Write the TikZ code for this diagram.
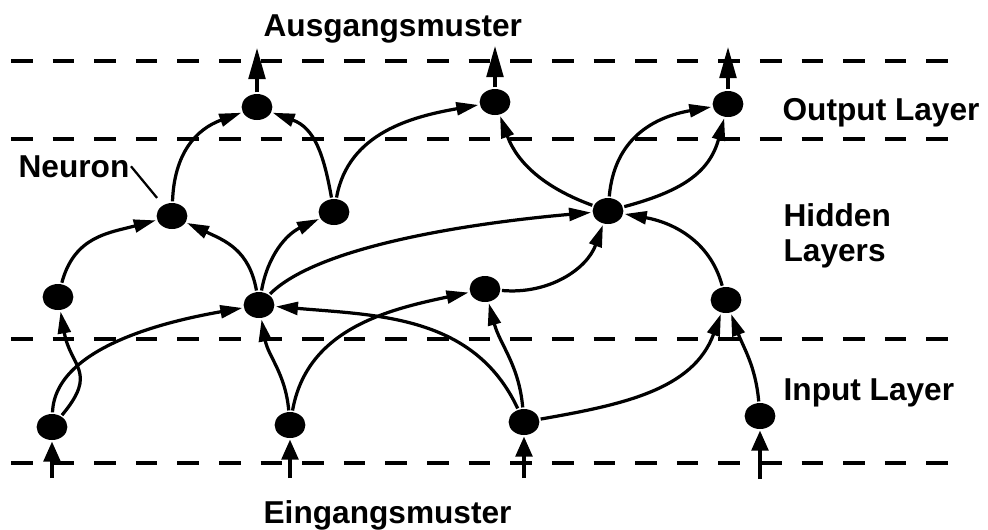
\documentclass[tikz,border=0pt]{standalone}
\usepackage{fontspec}
\setmainfont{Liberation Sans}
\usetikzlibrary{arrows.meta,shapes.geometric}
\begin{document}
\begin{tikzpicture}[x=0.025cm, y=0.025cm, line width=2.3pt,
  neuron/.style={ellipse, fill=black, minimum width=0.77cm, minimum height=0.65cm, inner sep=0pt},
  link/.style={-{Triangle[length=0.55cm,width=0.32cm]}},
  feedin/.style={-{Triangle[length=0.5cm,width=0.42cm]}},
  feedout/.style={-{Triangle[length=0.78cm,width=0.42cm]}},
  layer/.style={dash pattern=on 0.54cm off 0.5cm},
  lbl/.style={font=\bfseries\fontsize{22.5}{24.5}\selectfont, inner sep=0pt}]
\useasboundingbox (0,0) rectangle (988,-529);
\draw[layer] (11,-61) -- (953,-61);
\draw[layer] (11,-139) -- (953,-139);
\draw[layer] (11,-339) -- (953,-339);
\draw[layer] (11,-463) -- (953,-463);
\node[neuron] (N_0_0) at (52,-427) {};
\node[neuron] (N_0_1) at (290,-425) {};
\node[neuron] (N_0_2) at (524,-422) {};
\node[neuron] (N_0_3) at (760,-416) {};
\node[neuron] (N_1_0) at (58,-297) {};
\node[neuron] (N_1_1) at (259,-305) {};
\node[neuron] (N_1_2) at (485,-289) {};
\node[neuron] (N_1_3) at (726,-300) {};
\node[neuron] (N_2_0) at (172,-216) {};
\node[neuron] (N_2_1) at (334,-212) {};
\node[neuron] (N_2_2) at (608,-211) {};
\node[neuron] (N_3_0) at (257,-107) {};
\node[neuron] (N_3_1) at (495,-102) {};
\node[neuron] (N_3_2) at (728,-104) {};
\coordinate (in_0) at (52,-478);
\coordinate (in_1) at (290,-478);
\coordinate (in_2) at (524,-478);
\coordinate (in_3) at (760,-479);
\draw[feedin] (in_0) -- (N_0_0);
\draw[feedin] (in_1) -- (N_0_1);
\draw[feedin] (in_2) -- (N_0_2);
\draw[feedin] (in_3) -- (N_0_3);
\coordinate (out_0) at (257,-48);
\coordinate (out_1) at (495,-46);
\coordinate (out_2) at (728,-47);
\draw[feedout] (N_3_0) -- (out_0);
\draw[feedout] (N_3_1) -- (out_1);
\draw[feedout] (N_3_2) -- (out_2);
\draw[link] (N_0_0) to[out=50, in=-80, looseness=1.4] (N_1_0);
\draw[link] (N_0_0) to[out=88, in=190, looseness=0.8] (N_1_1);
\draw[link] (N_0_1) to[out=95, in=-80] (N_1_1);
\draw[link] (N_0_1) to[out=80, in=192] (N_1_2);
\draw[link] (N_0_2) to[out=115, in=-5] (N_1_1);
\draw[link] (N_0_2) to[out=95, in=-75] (N_1_2);
\draw[link] (N_0_2) to[out=10, in=-110] (N_1_3);
\draw[link] (N_0_3) to[out=95, in=-70] (N_1_3);
\draw[link] (N_1_0) to[out=75, in=195, looseness=1.1] (N_2_0);
\draw[link] (N_1_1) to[out=100, in=-25, looseness=1.1] (N_2_0);
\draw[link] (N_1_1) to[out=80, in=205] (N_2_1);
\draw[link] (N_1_1) to[out=45, in=185, looseness=0.6] (N_2_2);
\draw[link] (N_1_2) to[out=-5, in=-110] (N_2_2);
\draw[link] (N_1_3) to[out=105, in=-10] (N_2_2);
\draw[link] (N_2_0) to[out=88, in=200, looseness=1.1] (N_3_0);
\draw[link] (N_2_1) to[out=100, in=-20, looseness=1.1] (N_3_0);
\draw[link] (N_2_1) to[out=80, in=190] (N_3_1);
\draw[link] (N_2_2) to[out=160, in=-70] (N_3_1);
\draw[link] (N_2_2) to[out=85, in=190, looseness=1.1] (N_3_2);
\draw[link] (N_2_2) to[out=15, in=-105, looseness=1.1] (N_3_2);
\node[lbl, anchor=base west] (top) at (262,-36) {Ausgangsmuster};
\node[lbl, anchor=base west] (bottom) at (262,-523) {Eingangsmuster};
\node[lbl, anchor=base west] (outl) at (781,-120) {Output Layer};
\node[lbl, anchor=north west, align=left] (hidl) at (782,-202) {Hidden\\Layers};
\node[lbl, anchor=base west] (inl) at (782,-400) {Input Layer};
\node[lbl, anchor=base west] (neur) at (17,-177) {Neuron};
\draw[line width=1.6pt, shorten >=0.2cm] (neur.east) -- (N_2_0);
\end{tikzpicture}
\end{document}
